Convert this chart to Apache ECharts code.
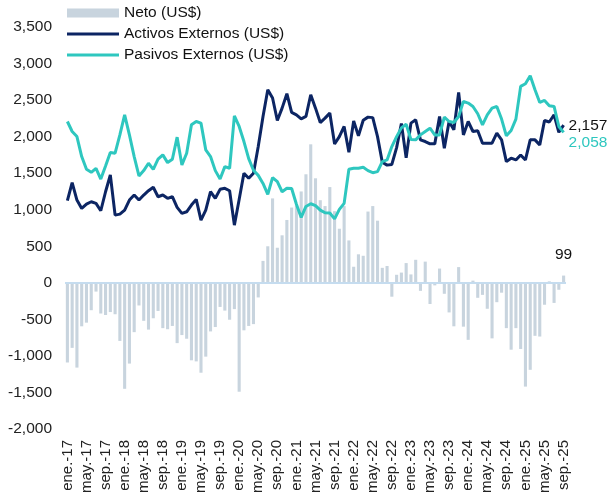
<!DOCTYPE html>
<html>
<head>
<meta charset="utf-8">
<script src="https://cdn.jsdelivr.net/npm/echarts@6/dist/echarts.min.js"></script>
<style>
  html, body { margin: 0; padding: 0; background: #fff; }
  #chart { width: 608px; height: 500px; }
</style>
</head>
<body>
<div id="chart"></div>
<script>
// meses ene-17 .. sep-25
const monthNames = ["ene.", "feb.", "mar.", "abr.", "may.", "jun.", "jul.", "ago.", "sep.", "oct.", "nov.", "dic."];
const years = ["17", "18", "19", "20", "21", "22", "23", "24", "25"];

const neto = [
  -1090, -890, -1160, -595, -545, -375, -120, -420, -440, -400, -430, -795,
  -1450, -1105, -675, -310, -520, -640, -485, -385, -620, -635, -590, -825,
  -715, -765, -1060, -1075, -1230, -1010, -665, -605, -330, -380, -505, -360,
  -1490, -650, -590, -565, -200, 300, 500, 1155, 480, 650, 860, 1030,
  1060, 1250, 1485, 1895, 1430, 1130, 1050, 1310, 980, 740, 1050, 580,
  220, 390, 370, 975, 1050, 850, 205, 230, -190, 110, 140, 270,
  115, 315, -110, 290, -290, -35, 195, -150, -405, -595, 215, -600,
  -780, 30, -205, -165, -355, -760, -265, -135, -620, -915, -620, -905,
  -1420, -1190, -725, -735, -300, 20, -275, -95, 99
];

const activos = [
  1123, 1370, 1132, 1018, 1077, 1109, 1087, 986, 1246, 1475, 926, 940,
  995, 1132, 1201, 1132, 1201, 1260, 1307, 1178, 1201, 1156, 1178, 1032,
  950, 972, 1064, 1142, 858, 995, 1246, 1156, 1279, 1293, 1260, 789,
  1140, 1498, 1430, 1498, 1864, 2276, 2642, 2528, 2221, 2390, 2587, 2331,
  2299, 2244, 2276, 2573, 2390, 2193, 2253, 2322, 1900, 2001, 2139, 1785,
  2215, 2010, 2225, 2267, 2260, 2000, 1650, 1610, 1620, 1850, 2180, 1710,
  2185, 2230, 1956, 1933, 1901, 1901, 2276, 1842, 2207, 2093, 2605, 2024,
  2207, 2070, 2080, 1910, 1910, 1910, 2047, 1956, 1658, 1705, 1681, 1750,
  1681, 1956, 1956, 1887, 2220, 2200, 2299, 2060, 2157
];

const pasivos = [
  2207, 2070, 2001, 1727, 1553, 1512, 1567, 1420, 1599, 1782, 1773, 2024,
  2299, 2024, 1727, 1462, 1535, 1636, 1553, 1691, 1750, 1645, 1691, 1993,
  1613, 1773, 2162, 2207, 2185, 1819, 1727, 1535, 1420, 1590, 1567, 2285,
  2139, 1933, 1700, 1540, 1470, 1360, 1210, 1440, 1384, 1246, 1293, 1290,
  1075, 895, 1045, 1082, 1057, 995, 958, 955, 875, 1005, 1087, 1553,
  1567, 1567, 1581, 1535, 1507, 1521, 1658, 1681, 1864, 2000, 2120, 2170,
  1960, 1956, 2024, 2070, 2116, 2024, 2024, 2267, 2207, 2193, 2276, 2482,
  2459, 2413, 2313, 2162, 2299, 2390, 2413, 2240, 2011, 2084, 2240, 2688,
  2724, 2834, 2642, 2468, 2495, 2422, 2413, 2139, 2058
];

const categories = [];
years.forEach(function (y) {
  monthNames.forEach(function (m) {
    if (categories.length < neto.length) categories.push(m + "-" + y);
  });
});

const fmt = function (v) {
  return Number(v).toLocaleString("en-US");
};

const lastIdx = neto.length - 1;
const fontFam = "'Liberation Sans', Arial, sans-serif";
const navy = "#0c2563";
const cyan = "#2ec7bf";
// thin bar used as legend icon for the lines (no circle marker)
const lineIcon = "path://M0,0H52V3H0Z";

// only the last point carries a label
function withEndLabel(arr, labelOpt) {
  return arr.map(function (v, i) {
    if (i !== lastIdx) return v;
    return { value: v, label: Object.assign({ show: true, formatter: function (p) { return fmt(p.value); } }, labelOpt) };
  });
}

const chart = echarts.init(document.getElementById("chart"));
chart.setOption({
  animation: false,
  textStyle: { fontFamily: fontFam },
  legend: {
    orient: "vertical",
    left: 67,
    top: 5,
    padding: 0,
    itemWidth: 52,
    itemHeight: 9,
    itemGap: 5,
    textStyle: { fontSize: 15.5, lineHeight: 16, color: "#111", fontFamily: fontFam },
    data: [
      { name: "Neto (US$)", icon: "rect" },
      { name: "Activos Externos (US$)", icon: lineIcon },
      { name: "Pasivos Externos (US$)", icon: lineIcon }
    ]
  },
  grid: { left: 65, right: 42, top: 27, bottom: 71 },
  xAxis: {
    type: "category",
    data: categories,
    axisLine: { show: false, onZero: false },
    axisTick: { show: false },
    axisLabel: {
      interval: 3,
      rotate: 90,
      margin: 11,
      fontSize: 15,
      color: "#222",
      fontFamily: fontFam
    }
  },
  yAxis: {
    type: "value",
    min: -2000,
    max: 3500,
    interval: 500,
    splitLine: { show: false },
    axisLine: { show: false },
    axisTick: { show: false },
    axisLabel: {
      fontSize: 15.5,
      color: "#222",
      margin: 13,
      fontFamily: fontFam,
      formatter: fmt
    }
  },
  series: [
    {
      name: "Neto (US$)",
      type: "bar",
      barCategoryGap: "35%",
      itemStyle: { color: "#c8d4de" },
      data: withEndLabel(neto, { position: "top", distance: 13, fontSize: 15.5, color: "#111" }),
      markLine: {
        silent: true,
        symbol: "none",
        label: { show: false },
        lineStyle: { color: "#c5dcef", width: 2, type: "solid" },
        data: [{ yAxis: 0 }]
      }
    },
    {
      name: "Activos Externos (US$)",
      type: "line",
      symbol: "circle",
      symbolSize: 0,
      showAllSymbol: true,
      z: 3,
      lineStyle: { color: navy, width: 3 },
      itemStyle: { color: navy },
      data: withEndLabel(activos, { position: "right", distance: 5, offset: [0, 1], fontSize: 15.5, color: "#111" })
    },
    {
      name: "Pasivos Externos (US$)",
      type: "line",
      symbol: "circle",
      symbolSize: 0,
      showAllSymbol: true,
      z: 4,
      lineStyle: { color: cyan, width: 3 },
      itemStyle: { color: cyan },
      data: withEndLabel(pasivos, { position: "right", distance: 5, offset: [0, 10], fontSize: 15.5, color: cyan })
    }
  ]
});
</script>
</body>
</html>
